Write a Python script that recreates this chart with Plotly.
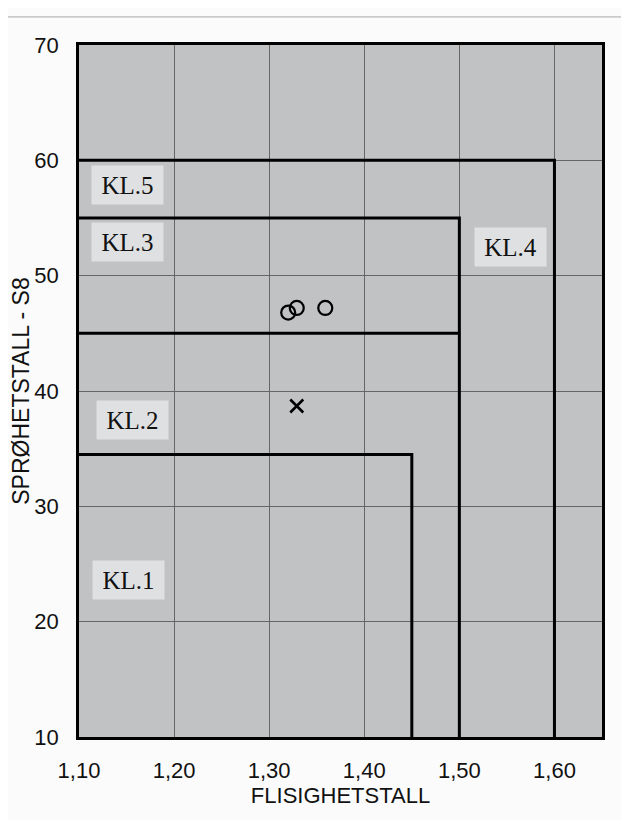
import plotly.graph_objects as go

# Data
circle_x = [1.32, 1.329, 1.359]
circle_y = [46.8, 47.2, 47.2]
cross_x = [1.329]
cross_y = [38.7]

# Class boundary lines (x, y)
kl5_x = [1.10, 1.60, 1.60]
kl5_y = [60, 60, 10]
kl34_x = [1.10, 1.50, 1.50]
kl34_y = [55, 55, 10]
kl3_low_x = [1.10, 1.50]
kl3_low_y = [45, 45]
kl12_x = [1.10, 1.45, 1.45]
kl12_y = [34.5, 34.5, 10]

label_text = ["KL.5", "KL.3", "KL.4", "KL.2", "KL.1"]
label_x = [1.1505, 1.1505, 1.554, 1.156, 1.1525]
label_y = [57.9, 52.9, 52.5, 37.5, 23.6]

x_ticks = [1.10, 1.20, 1.30, 1.40, 1.50, 1.60]
y_ticks = [10, 20, 30, 40, 50, 60, 70]

fig = go.Figure()
for xs, ys in [(kl5_x, kl5_y), (kl34_x, kl34_y), (kl3_low_x, kl3_low_y), (kl12_x, kl12_y)]:
    fig.add_trace(go.Scatter(x=xs, y=ys, mode="lines",
                             line=dict(color="black", width=3),
                             hoverinfo="skip", showlegend=False))

fig.add_trace(go.Scatter(x=circle_x, y=circle_y, mode="markers",
                         marker=dict(symbol="circle-open", size=14, color="black",
                                     line=dict(width=2.2, color="black")),
                         showlegend=False))
fig.add_trace(go.Scatter(x=cross_x, y=cross_y, mode="markers",
                         marker=dict(symbol="x-thin-open", size=13, color="black",
                                     line=dict(width=2.6, color="black")),
                         showlegend=False))

for t, x, y in zip(label_text, label_x, label_y):
    fig.add_annotation(x=x, y=y, text=t, showarrow=False,
                       font=dict(family="Liberation Serif", size=25, color="#111"),
                       bgcolor="#dfe0e2", width=67, height=34, borderpad=2)

fig.add_shape(type="line", xref="paper", yref="paper",
              x0=-0.151, x1=1.052, y0=1.0405, y1=1.0405,
              line=dict(color="#b8b8b8", width=1.2))

tick_font = dict(family="Liberation Sans, Arial", size=22, color="#111")
fig.update_layout(
    width=621, height=812,
    margin=dict(l=71, r=27, t=37, b=83, autoexpand=False),
    paper_bgcolor="#fbfbfb",
    plot_bgcolor="#c0c2c4",
    separators=", ",
    xaxis=dict(range=[1.10, 1.65], tickvals=x_ticks, tickformat=".2f",
               automargin=False,
               showgrid=True, gridcolor="#666666", gridwidth=1,
               showline=True, linecolor="black", linewidth=2.5, mirror=True,
               zeroline=False, ticks="", ticklabelstandoff=12,
               tickfont=tick_font,
               title=dict(text="FLISIGHETSTALL",
                          font=dict(family="Liberation Sans, Arial", size=22, color="#111"),
                          standoff=0)),
    yaxis=dict(range=[10, 70], tickvals=y_ticks,
               automargin=False,
               showgrid=True, gridcolor="#666666", gridwidth=1,
               showline=True, linecolor="black", linewidth=2.5, mirror=True,
               zeroline=False, ticks="", ticklabelstandoff=13,
               tickfont=tick_font,
               title=dict(text="SPRØHETSTALL - S8",
                          font=dict(family="Liberation Sans, Arial", size=23, color="#111"),
                          standoff=6)),
)

fig.write_html("out.html")
